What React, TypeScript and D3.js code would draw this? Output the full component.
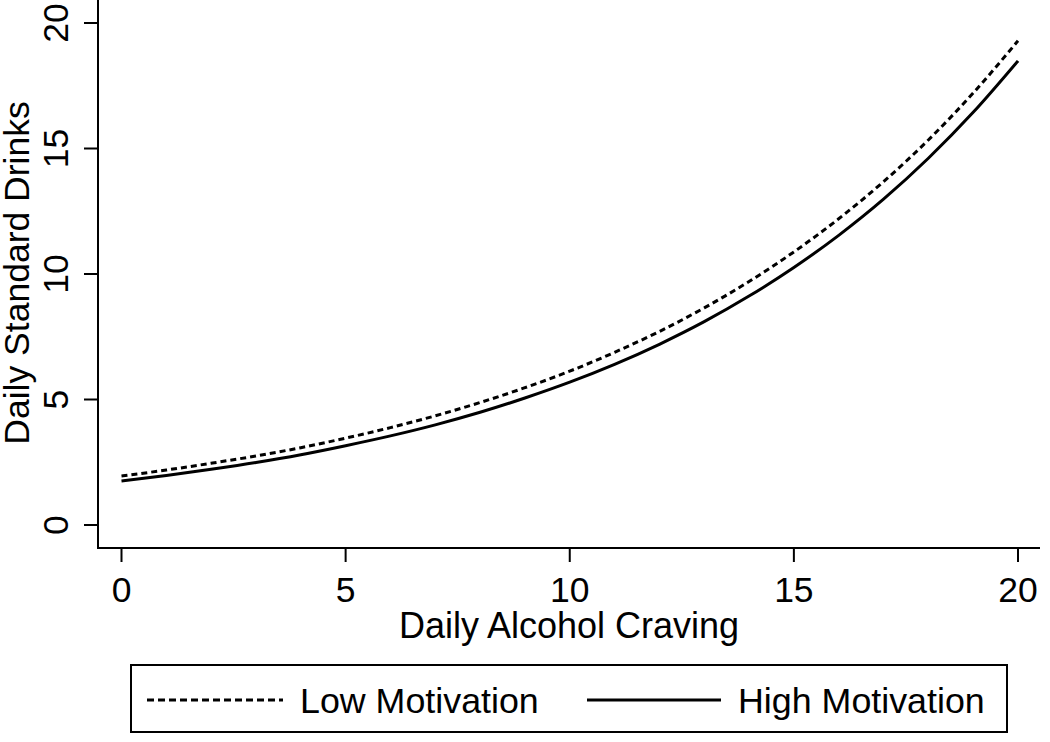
import React from "react";
import * as d3 from "d3";

const craving = [0, 1, 2, 3, 4, 5, 6, 7, 8, 9, 10, 11, 12, 13, 14, 15, 16, 17, 18, 19, 20];
const lowMotivation = [1.95, 2.19, 2.46, 2.75, 3.08, 3.46, 3.88, 4.35, 4.88, 5.47, 6.13, 6.88, 7.71, 8.65, 9.7, 10.88, 12.2, 13.68, 15.34, 17.21, 19.29];
const highMotivation = [1.75, 1.97, 2.22, 2.49, 2.8, 3.16, 3.55, 3.99, 4.49, 5.06, 5.69, 6.4, 7.2, 8.1, 9.12, 10.26, 11.54, 12.98, 14.61, 16.44, 18.49];
const xTicks = [0, 5, 10, 15, 20];
const yTicks = [0, 5, 10, 15, 20];
const xTitle = "Daily Alcohol Craving";
const yTitle = "Daily Standard Drinks";
const legendLabels = ["Low Motivation", "High Motivation"];

const FONT = "'Liberation Sans', Arial, sans-serif";

export default function App() {
  const W = 1050, H = 742;
  const axisX = 98, axisY = 548;
  const x = d3.scaleLinear().domain([0, 20]).range([121.5, 1018]);
  const y = d3.scaleLinear().domain([0, 20]).range([525, 23]);
  const line = d3
    .line<number>()
    .x((_, i) => x(craving[i]))
    .y((d) => y(d))
    .curve(d3.curveMonotoneX);

  return (
    <svg width={W} height={H} style={{ position: "absolute", left: 0, top: 0, background: "#fff" }} fontFamily={FONT}>
      <rect width={W} height={H} fill="#fff" />
      {/* axes */}
      <line x1={axisX} y1={0} x2={axisX} y2={axisY} stroke="#000" strokeWidth={2} />
      <line x1={axisX - 1} y1={axisY} x2={1040} y2={axisY} stroke="#000" strokeWidth={2} />
      {yTicks.map((t) => (
        <g key={"y" + t}>
          <line x1={axisX - 14} x2={axisX} y1={y(t)} y2={y(t)} stroke="#000" strokeWidth={2} />
          <text
            transform={`translate(68,${y(t)}) rotate(-90)`}
            textAnchor="middle"
            fontSize={35.5}
            fill="#000"
          >
            {t}
          </text>
        </g>
      ))}
      {xTicks.map((t) => (
        <g key={"x" + t}>
          <line x1={x(t)} x2={x(t)} y1={axisY} y2={axisY + 14} stroke="#000" strokeWidth={2} />
          <text x={x(t)} y={602} textAnchor="middle" fontSize={35.5} fill="#000">
            {t}
          </text>
        </g>
      ))}
      <text x={569} y={638} textAnchor="middle" fontSize={36} fill="#000">
        {xTitle}
      </text>
      <text transform={`translate(29,273) rotate(-90)`} textAnchor="middle" fontSize={35.5} fill="#000">
        {yTitle}
      </text>
      {/* curves */}
      <path d={line(lowMotivation) || ""} fill="none" stroke="#000" strokeWidth={3} strokeDasharray="6 4" />
      <path d={line(highMotivation) || ""} fill="none" stroke="#000" strokeWidth={3} />
      {/* legend */}
      <rect x={131} y={665} width={876} height={67} fill="#fff" stroke="#000" strokeWidth={2} />
      <line x1={147} x2={283} y1={700} y2={700} stroke="#000" strokeWidth={3} strokeDasharray="7 4" />
      <text x={300} y={713} fontSize={35.8} fill="#000">
        {legendLabels[0]}
      </text>
      <line x1={587} x2={721} y1={700} y2={700} stroke="#000" strokeWidth={3} />
      <text x={738} y={713} fontSize={35.8} fill="#000">
        {legendLabels[1]}
      </text>
    </svg>
  );
}
